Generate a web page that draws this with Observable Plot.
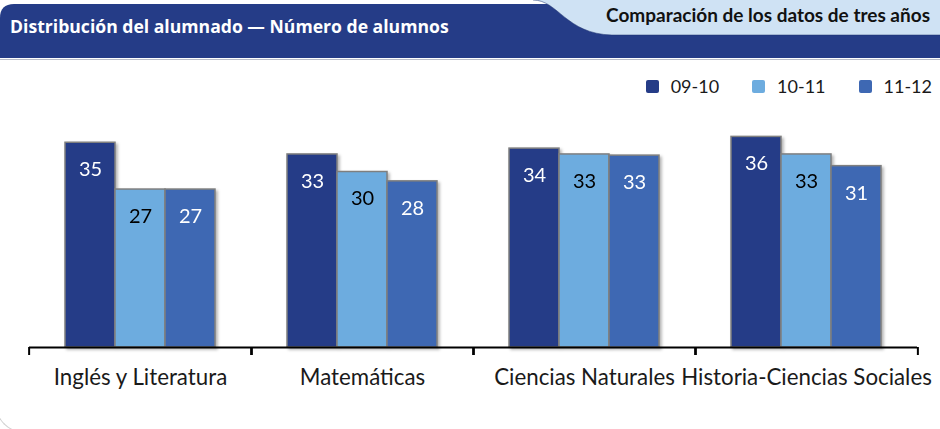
<!DOCTYPE html>
<html><head><meta charset="utf-8">
<script src="https://cdn.jsdelivr.net/npm/d3@7"></script>
<script src="https://cdn.jsdelivr.net/npm/@observablehq/plot@0.6"></script>
<style>
html,body{margin:0;padding:0;background:#fff;}
#wrap{position:relative;width:940px;height:429px;overflow:hidden;background:#fff;font-family:Lato,sans-serif;}
#panel{position:absolute;left:-5px;top:300px;width:400px;height:133px;border-left:1px solid #d2d2d2;border-bottom:1px solid #d2d2d2;border-bottom-left-radius:30px;box-sizing:border-box;}
#head{position:absolute;left:0;top:0;}
#legend{position:absolute;right:8px;top:77px;display:flex;align-items:center;font-size:18px;line-height:18px;color:#1a1a1a;}
.item{display:flex;align-items:center;margin-left:33px;}
.sw{width:13px;height:13px;border-radius:2px;margin-right:12px;box-sizing:border-box;}
#chart{position:absolute;left:0;top:110px;}
g[aria-label="bar"]{filter:drop-shadow(2px 2px 1.5px rgba(0,0,0,0.3));}
</style></head>
<body>
<div id="wrap">
  <div id="panel"></div>
  <svg id="head" width="940" height="62">
    <path d="M0,18 Q0,4 14,4 H940 V58 H0 Z" fill="#253c87"/>
    <line x1="0" x2="940" y1="59.5" y2="59.5" stroke="#b8bcc8" stroke-width="1"/>
    <path d="M533,0 C558,0 566,34 612,35 H940 V0 Z" fill="#cfe2f4"/>
    <path d="M533,0 C558,0 566,34 612,35 H940" fill="none" stroke="#1c2f6b" stroke-width="1" opacity="0.5"/>
    <text x="10" y="33" fill="#ffffff" font-family="Open Sans" font-weight="700" font-size="17.6">Distribución del alumnado — Número de alumnos</text>
    <text x="930" y="22" text-anchor="end" fill="#111111" font-family="Lato" font-weight="700" font-size="19">Comparación de los datos de tres años</text>
  </svg>
  <div id="legend"></div>
  <div id="chart"></div>
</div>
<script>
const categories = ["Inglés y Literatura", "Matemáticas", "Ciencias Naturales", "Historia-Ciencias Sociales"];
const years = ["09-10", "10-11", "11-12"];
const values0910 = [35, 33, 34, 36];
const values1011 = [27, 30, 33, 33];
const values1112 = [27, 28.4, 32.8, 31];
const seriesColors = ["#253c87", "#6dacdf", "#3e68b3"];
const labelColors = ["#ffffff", "#000000", "#ffffff"];

const seriesValues = [values0910, values1011, values1112];
const data = years.flatMap((year, j) =>
  categories.map((subject, i) => ({subject, year, value: seriesValues[j][i], labelColor: labelColors[j]}))
);

// legend
const legend = d3.select("#legend");
years.forEach((y, j) => {
  const it = legend.append("div").attr("class", "item");
  it.append("div").attr("class", "sw").style("background", seriesColors[j]);
  it.append("span").text(y);
});

const W = 940, H = 319, ML = 27, MR = 22, MT = 3, MB = 82;
const half = (W - ML - MR) / categories.length / 2;
const fmt = d3.format(".0f");

const chart = Plot.plot({
  width: W, height: H,
  marginTop: MT, marginBottom: MB, marginLeft: ML, marginRight: MR,
  style: {fontFamily: "Lato, sans-serif", background: "transparent", overflow: "visible"},
  fx: {domain: categories, padding: 0, axis: null, label: null},
  x: {domain: years, paddingInner: 0, paddingOuter: 0.7, axis: null},
  y: {domain: [0, 40], axis: null},
  color: {domain: years, range: seriesColors},
  marks: [
    Plot.barY(data, {fx: "subject", x: "year", y: "value", fill: "year", stroke: "#7f7f7f", strokeWidth: 1.5}),
    ...["#ffffff", "#000000"].map(c => Plot.text(data, {
      filter: d => d.labelColor === c,
      fx: "subject", x: "year", y: "value", text: d => fmt(d.value),
      fill: c, dy: 27, fontSize: 20
    })),
    Plot.ruleY([0], {stroke: "#000", strokeWidth: 2}),
    Plot.axisFx({anchor: "bottom", tickSize: 0, tickPadding: 22, fontSize: 22.3, fill: "#1a1a1a", label: null}),
    Plot.axisFx({anchor: "bottom", tickSize: 8, dx: -half, stroke: "#000", strokeWidth: 2, tickFormat: () => "", label: null}),
    Plot.axisFx({anchor: "bottom", tickSize: 8, dx: half, stroke: "#000", strokeWidth: 2, tickFormat: () => "", label: null})
  ]
});
document.getElementById("chart").appendChild(chart);
</script>
</body></html>
